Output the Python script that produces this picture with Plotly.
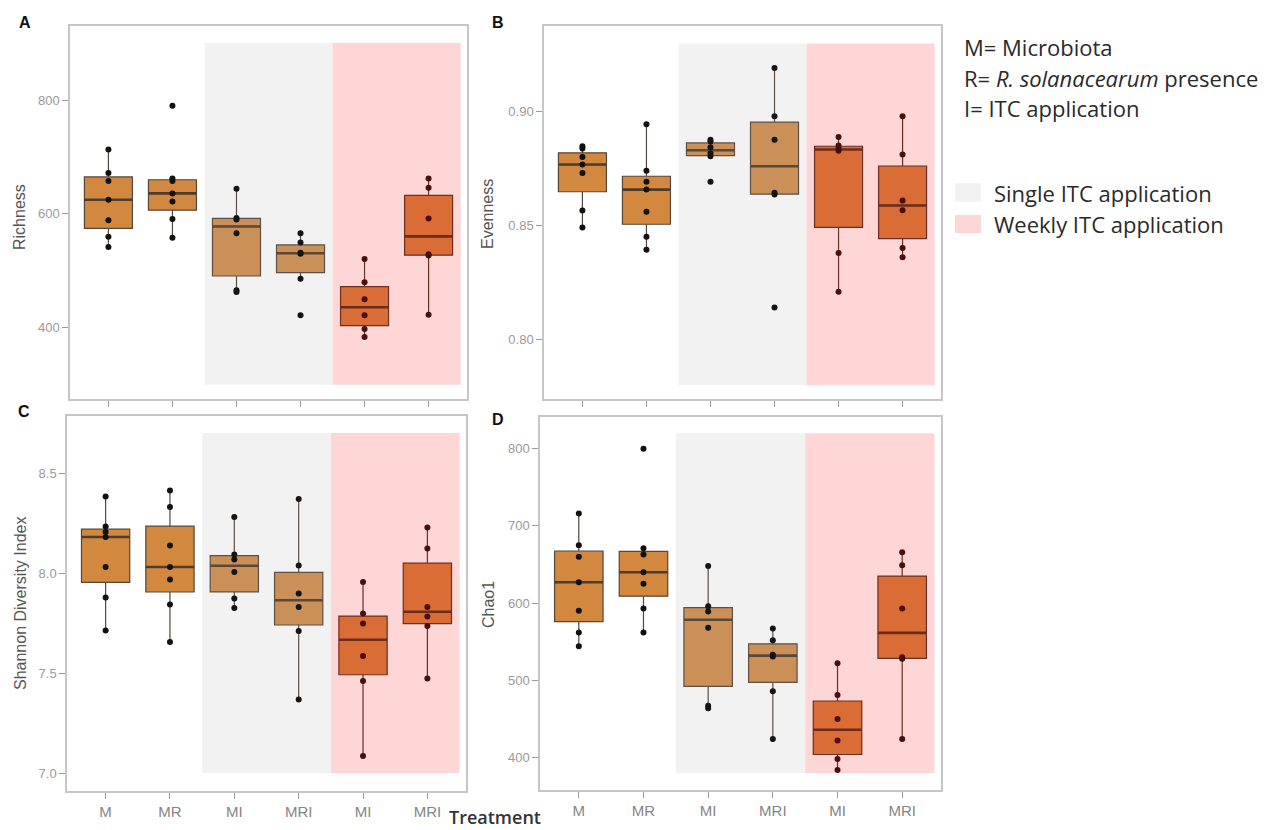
import numpy as np
import plotly.graph_objects as go

W, H = 1287, 830

# Treatment groups (slots 3-4: single ITC application, slots 5-6: weekly ITC application)
treatments = ["M", "MR", "MI", "MRI", "MI", "MRI"]
slots = [1, 2, 3, 4, 5, 6]

# Per-sample diversity values for each treatment group
richness = [
    [542, 560, 589, 625, 658, 672, 713],
    [558, 591, 622, 636, 658, 662, 790],
    [463, 466, 566, 590, 593, 644],
    [422, 486, 530, 532, 550, 566],
    [384, 398, 422, 450, 480, 521],
    [423, 527, 529, 592, 646, 662],
]
evenness = [
    [0.8493, 0.8567, 0.8732, 0.8769, 0.8802, 0.8839, 0.8849],
    [0.8395, 0.8452, 0.8562, 0.8659, 0.8693, 0.8742, 0.8946],
    [0.8693, 0.8805, 0.8818, 0.8845, 0.8870, 0.8878],
    [0.8142, 0.8637, 0.8645, 0.8878, 0.8981, 0.9193],
    [0.8211, 0.8381, 0.8829, 0.8841, 0.8852, 0.8890],
    [0.8362, 0.8403, 0.8568, 0.8611, 0.8813, 0.8981],
]
shannon = [
    [7.712, 7.877, 8.030, 8.180, 8.205, 8.233, 8.383],
    [7.655, 7.842, 7.968, 8.030, 8.138, 8.330, 8.413],
    [7.825, 7.872, 8.005, 8.067, 8.093, 8.280],
    [7.368, 7.710, 7.830, 7.897, 8.038, 8.370],
    [7.085, 7.460, 7.585, 7.747, 7.797, 7.955],
    [7.472, 7.735, 7.783, 7.830, 8.122, 8.227],
]
chao1 = [
    [544, 562, 590, 627, 660, 675, 716],
    [562, 593, 625, 640, 663, 671, 800],
    [464, 467, 568, 589, 596, 648],
    [424, 486, 531, 533, 552, 567],
    [384, 398, 422, 450, 481, 522],
    [424, 528, 530, 593, 649, 666],
]

richness_ticks = [400, 600, 800]
evenness_ticks = [0.80, 0.85, 0.90]
shannon_ticks = [7.0, 7.5, 8.0, 8.5]
chao1_ticks = [400, 500, 600, 700, 800]

# Styling per treatment slot
box_fill = ["#D3883F", "#D3883F", "#CB8F58", "#CB8F58", "#DA6C36", "#DA6C36"]
box_line = ["#54463A", "#54463A", "#5E5046", "#5E5046", "#6A2E22", "#6A2E22"]
med_line = ["#4E3C2C", "#4E3C2C", "#5A4838", "#5A4838", "#6B2C1C", "#6B2C1C"]
dot_color = ["#111111", "#111111", "#141414", "#141414", "#4A0E0E", "#4A0E0E"]

GRAY_BG = "#F2F2F2"
PINK_BG = "#FFD6D6"
FRAME = "#C6C6C6"
TICK_GRAY = "#9A9A9A"
SANS = "Liberation Sans, Arial, sans-serif"
KEY_FONT = "Open Sans, sans-serif"


def px_x(x):
    return x / W


def px_y(y):
    return 1 - y / H


def box_stats(vals):
    v = np.sort(np.asarray(vals, dtype=float))
    q1, med, q3 = np.percentile(v, [25, 50, 75])
    iqr = q3 - q1
    lo = v[v >= q1 - 1.5 * iqr].min()
    hi = v[v <= q3 + 1.5 * iqr].max()
    return q1, med, q3, lo, hi


# panel: (data, axis suffix, x-domain px, y-domain px, y-range, ticks, tickformat,
#         shaded y-extent, title, title position, letter, letter position, show x labels)
panels = [
    (richness, "", (70, 467), (26, 399), (275, 930), richness_ticks, "d",
     (300, 900), "Richness", (20, 217), "A", (25, 22), False),
    (evenness, "2", (544, 941), (26, 399), (0.774, 0.9377), evenness_ticks, ".2f",
     (0.780, 0.930), "Evenness", (488, 214), "B", (498, 22), False),
    (shannon, "3", (67, 466), (416, 791), (6.91, 8.785), shannon_ticks, ".1f",
     (7.0, 8.7), "Shannon Diversity Index", (20, 604), "C", (24, 411), True),
    (chao1, "4", (540, 941), (417, 790), (358, 841), chao1_ticks, "d",
     (380, 820), "Chao1", (488, 605), "D", (498, 419), True),
]

fig = go.Figure()
shapes = []
annotations = []
layout_axes = {}

BOX_W = 0.75

for (data, sfx, xd, yd, yr, yt, yfmt, shade, ytitle, tpos, letter, lpos, xlab) in panels:
    xa = "x" + sfx
    ya = "y" + sfx

    for i, vals in enumerate(data):
        q1, med, q3, lo, hi = box_stats(vals)
        pos = slots[i]
        fig.add_trace(go.Box(
            x=[pos], q1=[q1], median=[med], q3=[q3],
            lowerfence=[lo], upperfence=[hi],
            width=BOX_W, whiskerwidth=0, boxpoints=False,
            fillcolor=box_fill[i], line=dict(color=box_line[i], width=1.2),
            showlegend=False, hoverinfo="skip", xaxis=xa, yaxis=ya,
        ))
        fig.add_trace(go.Scatter(
            x=[pos - BOX_W / 2, pos + BOX_W / 2], y=[med, med], mode="lines",
            line=dict(color=med_line[i], width=2.6),
            showlegend=False, hoverinfo="skip", xaxis=xa, yaxis=ya,
        ))
        fig.add_trace(go.Scatter(
            x=[pos] * len(vals), y=vals, mode="markers",
            marker=dict(size=6, color=dot_color[i]),
            showlegend=False, hoverinfo="skip", xaxis=xa, yaxis=ya,
        ))

    # Treatment-regime background bands
    shapes.append(dict(type="rect", xref=xa, yref=ya, x0=2.5, x1=4.5,
                       y0=shade[0], y1=shade[1], fillcolor=GRAY_BG,
                       line=dict(width=0), layer="below"))
    shapes.append(dict(type="rect", xref=xa, yref=ya, x0=4.5, x1=6.5,
                       y0=shade[0], y1=shade[1], fillcolor=PINK_BG,
                       line=dict(width=0), layer="below"))

    key_x = "xaxis" + sfx
    key_y = "yaxis" + sfx
    layout_axes[key_x] = dict(
        domain=[px_x(xd[0]), px_x(xd[1])], anchor=ya, range=[0.4, 6.6],
        tickmode="array", tickvals=slots, ticktext=treatments,
        showticklabels=xlab, ticks="outside", ticklen=6, tickwidth=1.2,
        tickcolor=TICK_GRAY, showgrid=False, zeroline=False,
        showline=True, mirror=True, linecolor=FRAME, linewidth=1.5,
        tickfont=dict(family=SANS, size=15, color="#858585"),
    )
    layout_axes[key_y] = dict(
        domain=[px_y(yd[1]), px_y(yd[0])], anchor=xa, range=list(yr),
        tickmode="array", tickvals=yt, tickformat=yfmt,
        ticks="outside", ticklen=6, tickwidth=1.2, tickcolor=TICK_GRAY,
        showgrid=False, zeroline=False,
        showline=True, mirror=True, linecolor=FRAME, linewidth=1.5,
        tickfont=dict(family=SANS, size=13, color=TICK_GRAY),
    )

    annotations.append(dict(
        text=ytitle, xref="paper", yref="paper", x=px_x(tpos[0]), y=px_y(tpos[1]),
        textangle=-90, showarrow=False, xanchor="center", yanchor="middle",
        font=dict(family=SANS, size=16, color="#555555"),
    ))
    annotations.append(dict(
        text="<b>%s</b>" % letter, xref="paper", yref="paper",
        x=px_x(lpos[0]), y=px_y(lpos[1]), showarrow=False,
        xanchor="center", yanchor="middle",
        font=dict(family=SANS, size=16, color="#111111"),
    ))

# Shared x-axis title
annotations.append(dict(
    text="Treatment", xref="paper", yref="paper", x=px_x(495), y=0,
    showarrow=False, xanchor="center", yanchor="bottom", borderpad=0,
    font=dict(family=KEY_FONT, size=18, color="#333333", weight=600),
))

# Abbreviation key
key_lines = ["M= Microbiota", "R= <i>R. solanacearum</i> presence", "I= ITC application"]
key_y = [47, 78, 108]
for txt, yy in zip(key_lines, key_y):
    annotations.append(dict(
        text=txt, xref="paper", yref="paper", x=px_x(962), y=px_y(yy),
        showarrow=False, xanchor="left", yanchor="middle",
        font=dict(family=KEY_FONT, size=22, color="#2A2A2A"),
    ))

# Background band key
band_key = [("Single ITC application", GRAY_BG, 183, 202),
            ("Weekly ITC application", PINK_BG, 215, 233)]
for txt, col, y0, y1 in band_key:
    shapes.append(dict(type="rect", xref="paper", yref="paper",
                       x0=px_x(955), x1=px_x(981), y0=px_y(y1), y1=px_y(y0),
                       fillcolor=col, line=dict(width=0)))
    annotations.append(dict(
        text=txt, xref="paper", yref="paper", x=px_x(992), y=px_y((y0 + y1) / 2),
        showarrow=False, xanchor="left", yanchor="middle",
        font=dict(family=KEY_FONT, size=22, color="#2A2A2A"),
    ))

fig.update_layout(
    width=W, height=H, margin=dict(l=0, r=0, t=0, b=0),
    paper_bgcolor="white", plot_bgcolor="white",
    shapes=shapes, annotations=annotations, **layout_axes,
)

fig.write_html("out.html")
